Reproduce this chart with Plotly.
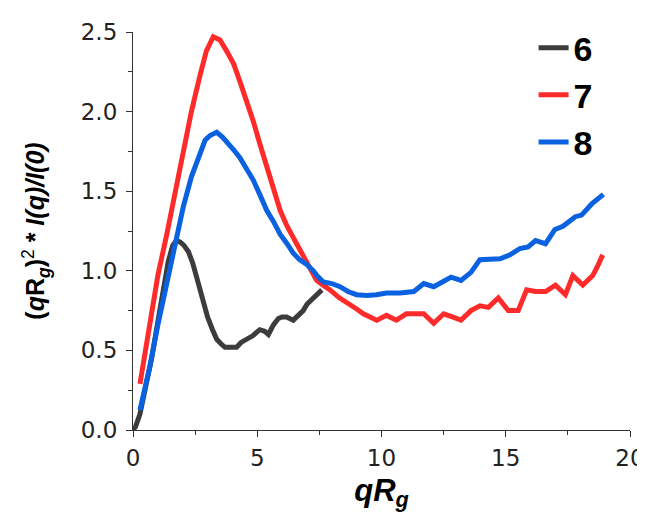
import plotly.graph_objects as go

x6 = [0.0, 0.1, 0.28, 0.5, 0.75, 1.0, 1.2, 1.42, 1.6, 1.75, 1.9, 2.05, 2.23, 2.4, 2.56, 2.7, 2.83, 3.0, 3.2, 3.37,
      3.55, 3.7, 3.9, 4.17, 4.35, 4.57, 4.8, 5.1, 5.3, 5.45, 5.65, 5.85, 6.0, 6.18, 6.45, 6.65, 6.85, 7.0, 7.12, 7.35, 7.6]
y6 = [0.0, 0.02, 0.10, 0.25, 0.45, 0.68, 0.87, 1.06, 1.16, 1.19, 1.18, 1.16, 1.12, 1.05, 0.96, 0.88, 0.79, 0.71, 0.63, 0.57,
      0.54, 0.52, 0.52, 0.52, 0.55, 0.57, 0.59, 0.63, 0.62, 0.60, 0.66, 0.70, 0.71, 0.71, 0.69, 0.72, 0.75, 0.79, 0.81, 0.84, 0.88]

x7 = [0.28, 0.5, 0.68, 1.0, 1.36, 1.7, 2.02, 2.35, 2.7, 2.95, 3.23, 3.5, 3.77, 4.05, 4.3, 4.57, 4.84, 5.1, 5.38, 5.65,
      5.92, 6.2, 6.45, 6.7, 6.99, 7.2, 7.39, 7.65, 7.93, 8.3, 8.73, 9.0, 9.27, 9.55, 9.81, 10.2, 10.6, 11.0, 11.35, 11.7,
      12.1, 12.5, 12.85, 13.2, 13.6, 13.96, 14.3, 14.7, 15.1, 15.5, 15.84, 16.2, 16.6, 17.0, 17.4, 17.7, 18.1, 18.5, 18.7, 18.9]
y7 = [0.29, 0.50, 0.71, 0.97, 1.23, 1.50, 1.75, 2.0, 2.23, 2.38, 2.47, 2.45, 2.38, 2.30, 2.19, 2.07, 1.94, 1.80, 1.65, 1.51,
      1.38, 1.28, 1.21, 1.13, 1.06, 1.00, 0.94, 0.91, 0.88, 0.83, 0.79, 0.76, 0.73, 0.71, 0.69, 0.72, 0.69, 0.73, 0.73, 0.73,
      0.67, 0.73, 0.71, 0.69, 0.75, 0.78, 0.77, 0.83, 0.75, 0.75, 0.88, 0.87, 0.87, 0.91, 0.85, 0.97, 0.91, 0.97, 1.03, 1.10]

x8 = [0.28, 0.5, 0.68, 1.0, 1.36, 1.7, 2.02, 2.35, 2.7, 2.9, 3.1, 3.37, 3.6, 3.84, 4.05, 4.3, 4.57, 4.84, 5.1, 5.38,
      5.65, 5.92, 6.2, 6.45, 6.7, 6.99, 7.26, 7.4, 7.66, 8.0, 8.33, 8.65, 9.0, 9.4, 9.8, 10.2, 10.75, 11.3, 11.7, 12.1,
      12.45, 12.8, 13.2, 13.6, 13.96, 14.4, 14.77, 15.17, 15.57, 15.9, 16.2, 16.6, 16.98, 17.3, 17.8, 18.05, 18.46, 18.93]
y8 = [0.125, 0.27, 0.40, 0.66, 0.92, 1.17, 1.40, 1.59, 1.75, 1.82, 1.85, 1.87, 1.84, 1.80, 1.76, 1.71, 1.64, 1.57, 1.48, 1.38,
      1.31, 1.23, 1.17, 1.11, 1.07, 1.04, 1.00, 0.97, 0.93, 0.92, 0.90, 0.87, 0.85, 0.845, 0.85, 0.86, 0.86, 0.87, 0.92, 0.90,
      0.93, 0.96, 0.94, 0.99, 1.07, 1.07, 1.075, 1.10, 1.14, 1.15, 1.19, 1.17, 1.26, 1.28, 1.34, 1.35, 1.42, 1.48]

series = [("6", x6, y6, "#3c3c3c"), ("7", x7, y7, "#ff2b2b"), ("8", x8, y8, "#0a62e0")]

fig = go.Figure()
for name, xs, ys, col in series:
    fig.add_trace(go.Scatter(x=xs, y=ys, mode="lines", name=name,
                             line=dict(color=col, width=5)))

lab_font = "Liberation Sans, Arial, sans-serif"
tick_font = "DejaVu Sans, Liberation Sans, sans-serif"
# page body has an 8px default margin, so the figure is drawn at (8, 8)
fig.update_layout(
    width=637, height=510,
    margin=dict(l=125, r=15, t=23, b=88),
    paper_bgcolor="white", plot_bgcolor="white",
    font=dict(family=lab_font, color="#222"),
    showlegend=True,
    legend=dict(x=0.806, y=1.03, xanchor="left", yanchor="top",
                font=dict(size=34, family=lab_font, color="black", weight="bold"),
                bgcolor="rgba(0,0,0,0)", tracegroupgap=0, itemsizing="constant"),
)
fig.update_xaxes(range=[0, 20], showgrid=False, zeroline=False, showline=True, automargin=False,
                 linecolor="#333", linewidth=1.2, ticks="outside", ticklen=6, tickwidth=1.2,
                 tickcolor="#333", dtick=5, tick0=0, ticklabelstandoff=1,
                 tickfont=dict(size=23, color="#222", family=tick_font),
                 minor=dict(dtick=2.5, ticks="outside", ticklen=4, tickcolor="#333", tickwidth=1),
                 title=dict(text="<b><i>qR<sub>g</sub></i></b>", font=dict(size=31, color="black"),
                            standoff=9))
fig.update_yaxes(range=[0, 2.5], showgrid=False, zeroline=False, showline=True, automargin=False,
                 linecolor="#333", linewidth=1.2, ticks="outside", ticklen=6, tickwidth=1.2,
                 tickcolor="#333", dtick=0.5, tick0=0, tickformat=".1f", ticklabelstandoff=4,
                 tickfont=dict(size=23, color="#222", family=tick_font),
                 minor=dict(dtick=0.25, ticks="outside", ticklen=4, tickcolor="#333", tickwidth=1),
                 title=dict(text="<b>(<i>q</i>R<sub><i>g</i></sub>)</b><sup>2</sup><b> * <i>I(q)/I(0)</i></b>",
                            font=dict(size=25, color="black"), standoff=28))

fig.write_html("out.html")
